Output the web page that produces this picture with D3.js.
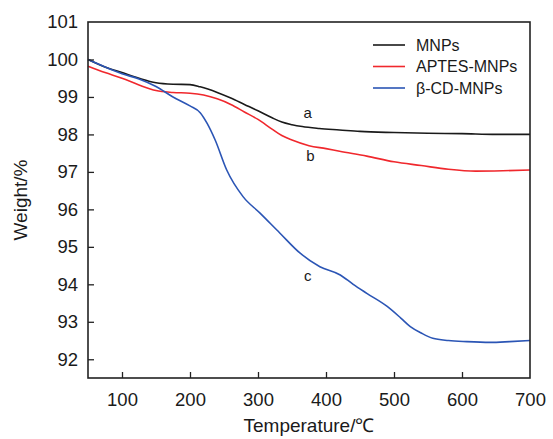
<!DOCTYPE html>
<html>
<head>
<meta charset="utf-8">
<script src="https://cdn.jsdelivr.net/npm/d3@7"></script>
<style>
  body { margin: 0; background: #fff; }
  svg { display: block; font-family: "Liberation Sans", Arial, sans-serif; }
</style>
</head>
<body>
<div id="chart"></div>
<script>
// TGA curves: temperature (°C) and weight (%)
const mnpsTemp = [50, 75, 100, 125, 150, 175, 200, 215, 240, 260, 280, 300, 320, 335, 350, 365, 390, 420, 450, 500, 550, 600, 650, 700];
const mnpsWeight = [100, 99.8, 99.65, 99.5, 99.38, 99.34, 99.33, 99.27, 99.12, 98.97, 98.8, 98.63, 98.45, 98.33, 98.26, 98.21, 98.16, 98.12, 98.08, 98.05, 98.03, 98.02, 98.0, 98.0];

const aptesTemp = [50, 75, 100, 125, 150, 175, 200, 220, 240, 260, 280, 300, 320, 335, 350, 375, 400, 420, 460, 500, 540, 580, 620, 660, 700];
const aptesWeight = [99.82, 99.65, 99.5, 99.32, 99.17, 99.12, 99.1, 99.05, 98.95, 98.8, 98.6, 98.4, 98.15, 97.97, 97.85, 97.7, 97.62, 97.55, 97.42, 97.27, 97.17, 97.07, 97.02, 97.03, 97.05];

const cdTemp = [50, 75, 100, 125, 150, 175, 200, 215, 225, 237, 254, 278, 303, 332, 362, 391, 421, 440, 460, 490, 510, 524, 540, 557, 580, 607, 641, 670, 700];
const cdWeight = [100, 99.8, 99.62, 99.48, 99.28, 99.0, 98.76, 98.58, 98.3, 97.85, 97.05, 96.34, 95.9, 95.37, 94.83, 94.47, 94.25, 94.0, 93.76, 93.41, 93.1, 92.87, 92.7, 92.56, 92.5, 92.47, 92.45, 92.47, 92.5];

const seriesNames = ['MNPs', 'APTES-MNPs', 'β-CD-MNPs'];
const seriesColors = ['#1a1a1a', '#f0282d', '#2b55b5'];
const curveLetters = ['a', 'b', 'c'];
const letterSpots = [[373, 98.45], [377, 97.3], [373, 94.1]];

const xTicks = [100, 200, 300, 400, 500, 600, 700];
const yTicks = [92, 93, 94, 95, 96, 97, 98, 99, 100, 101];

const width = 553, height = 439;
const margin = { top: 22, right: 23, bottom: 61, left: 88 };

const svg = d3.select('#chart').append('svg')
    .attr('width', width)
    .attr('height', height);

const x = d3.scaleLinear().domain([50, 700]).range([margin.left, width - margin.right]);
const y = d3.scaleLinear().domain([91.5, 101]).range([height - margin.bottom, margin.top]);

const series = [
    { temp: mnpsTemp, weight: mnpsWeight },
    { temp: aptesTemp, weight: aptesWeight },
    { temp: cdTemp, weight: cdWeight }
];

const line = d3.line()
    .x(d => x(d[0]))
    .y(d => y(d[1]))
    .curve(d3.curveMonotoneX);

series.forEach((s, i) => {
    svg.append('path')
        .datum(s.temp.map((t, j) => [t, s.weight[j]]))
        .attr('fill', 'none')
        .attr('stroke', seriesColors[i])
        .attr('stroke-width', 1.6)
        .attr('d', line);
});

// axes with inward ticks
const tickLen = 6;
const xAxis = svg.append('g')
    .attr('transform', `translate(0,${y(91.5)})`)
    .call(d3.axisBottom(x).tickValues(xTicks).tickSize(-tickLen).tickPadding(15));
const yAxis = svg.append('g')
    .attr('transform', `translate(${x(50)},0)`)
    .call(d3.axisLeft(y).tickValues(yTicks).tickSize(-tickLen).tickPadding(10));

[xAxis, yAxis].forEach(g => {
    g.select('.domain').remove();
    g.selectAll('line').attr('stroke', '#222').attr('stroke-width', 1.3);
    g.selectAll('text').attr('fill', '#1a1a1a').style('font-size', '18.5px');
});
yAxis.selectAll('.tick').filter(d => d === 101).select('line').remove();
xAxis.selectAll('.tick').filter(d => d === 700).select('line').remove();

// frame
svg.append('rect')
    .attr('x', x(50))
    .attr('y', y(101))
    .attr('width', x(700) - x(50))
    .attr('height', y(91.5) - y(101))
    .attr('fill', 'none')
    .attr('stroke', '#222')
    .attr('stroke-width', 1.6);

// curve letters
letterSpots.forEach((p, i) => {
    svg.append('text')
        .attr('x', x(p[0]))
        .attr('y', y(p[1]))
        .attr('text-anchor', 'middle')
        .style('font-size', '15px')
        .attr('fill', '#1a1a1a')
        .text(curveLetters[i]);
});

// legend
const legend = svg.append('g').attr('transform', 'translate(373,45)');
seriesNames.forEach((name, i) => {
    const row = legend.append('g').attr('transform', `translate(0,${i * 21.5})`);
    row.append('line')
        .attr('x1', 0).attr('x2', 32)
        .attr('stroke', seriesColors[i])
        .attr('stroke-width', 1.6);
    row.append('text')
        .attr('x', 43)
        .attr('dy', '0.35em')
        .style('font-size', '16px')
        .attr('fill', '#1a1a1a')
        .text(name);
});

// axis titles
svg.append('text')
    .attr('x', (x(50) + x(700)) / 2)
    .attr('y', 432)
    .attr('text-anchor', 'middle')
    .style('font-size', '19px')
    .attr('fill', '#1a1a1a')
    .text('Temperature/℃');

svg.append('text')
    .attr('transform', `translate(27,${(y(91.5) + y(101)) / 2}) rotate(-90)`)
    .attr('text-anchor', 'middle')
    .style('font-size', '19px')
    .attr('fill', '#1a1a1a')
    .text('Weight/%');
</script>
</body>
</html>
